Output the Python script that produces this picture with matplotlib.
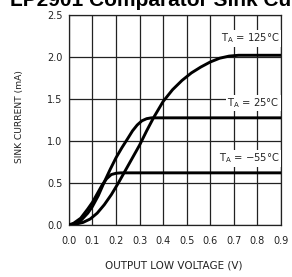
import matplotlib
matplotlib.use("Agg")
import matplotlib.pyplot as plt

# Data
x_m55 = [0.0, 0.02, 0.05, 0.08, 0.10, 0.12, 0.14, 0.16, 0.18, 0.20, 0.22, 0.25, 0.9]
y_m55 = [0.0, 0.02, 0.08, 0.19, 0.27, 0.37, 0.47, 0.55, 0.60, 0.615, 0.62, 0.62, 0.62]

x_25 = [0.0, 0.02, 0.05, 0.08, 0.10, 0.125, 0.15, 0.175, 0.20, 0.225, 0.25, 0.27, 0.29, 0.31, 0.33, 0.35, 0.9]
y_25 = [0.0, 0.01, 0.05, 0.14, 0.22, 0.35, 0.51, 0.66, 0.80, 0.92, 1.03, 1.12, 1.19, 1.24, 1.265, 1.275, 1.275]

x_125 = [0.0, 0.03, 0.06, 0.09, 0.12, 0.15, 0.18, 0.21, 0.24, 0.27, 0.30, 0.33, 0.36, 0.40, 0.44, 0.48, 0.52, 0.56, 0.60, 0.64, 0.68, 0.72, 0.9]
y_125 = [0.0, 0.01, 0.03, 0.07, 0.14, 0.24, 0.36, 0.50, 0.65, 0.80, 0.95, 1.12, 1.28, 1.47, 1.61, 1.72, 1.81, 1.88, 1.94, 1.985, 2.01, 2.02, 2.02]

labels = ["T$_{\\mathregular{A}}$ = 125°C", "T$_{\\mathregular{A}}$ = 25°C", "T$_{\\mathregular{A}}$ = \u221255°C"]
label_y = [2.22, 1.45, 0.79]

xticks = [0.0, 0.1, 0.2, 0.3, 0.4, 0.5, 0.6, 0.7, 0.8, 0.9]
yticks = [0.0, 0.5, 1.0, 1.5, 2.0, 2.5]

title = "LP2901 Comparator Sink Current"
xlabel = "OUTPUT LOW VOLTAGE (V)"
ylabel = "SINK CURRENT (mA)"

fig = plt.figure(figsize=(2.92, 2.77), dpi=100)
ax = fig.add_axes([0.236, 0.188, 0.726, 0.758])

ax.set_xlim(0, 0.9)
ax.set_ylim(0, 2.5)
ax.set_xticks(xticks)
ax.set_yticks(yticks)
ax.set_xticklabels([f"{v:.1f}" for v in xticks])
ax.set_yticklabels([f"{v:.1f}" for v in yticks])
ax.tick_params(length=0, labelsize=7, colors="#222222")
ax.tick_params(axis="x", pad=8)
ax.tick_params(axis="y", pad=4.5)
ax.grid(True, color="#222222", lw=0.9)
for s in ax.spines.values():
    s.set_color("#222222")
    s.set_linewidth(0.9)

for xs, ys in [(x_m55, y_m55), (x_25, y_25), (x_125, y_125)]:
    ax.plot(xs, ys, color="black", lw=2.1, solid_joinstyle="round", zorder=3)

for lab, ly in zip(labels, label_y):
    ax.text(0.893, ly, lab, ha="right", va="center", fontsize=7.2,
            color="#222222", zorder=4,
            bbox=dict(facecolor="white", edgecolor="none", pad=1.0))

fig.text(10 / 292, 1 - 6 / 277, title, ha="left", va="baseline",
         fontsize=15, fontweight="bold", family="Liberation Sans")
fig.text(20 / 292, 1 - 117 / 277, ylabel, rotation=90, ha="center", va="center",
         fontsize=6.6, color="#222222")
fig.text(174 / 292, 1 - 266 / 277, xlabel, ha="center", va="center",
         fontsize=7.5, color="#222222")

fig.savefig("out.png", dpi=100)
